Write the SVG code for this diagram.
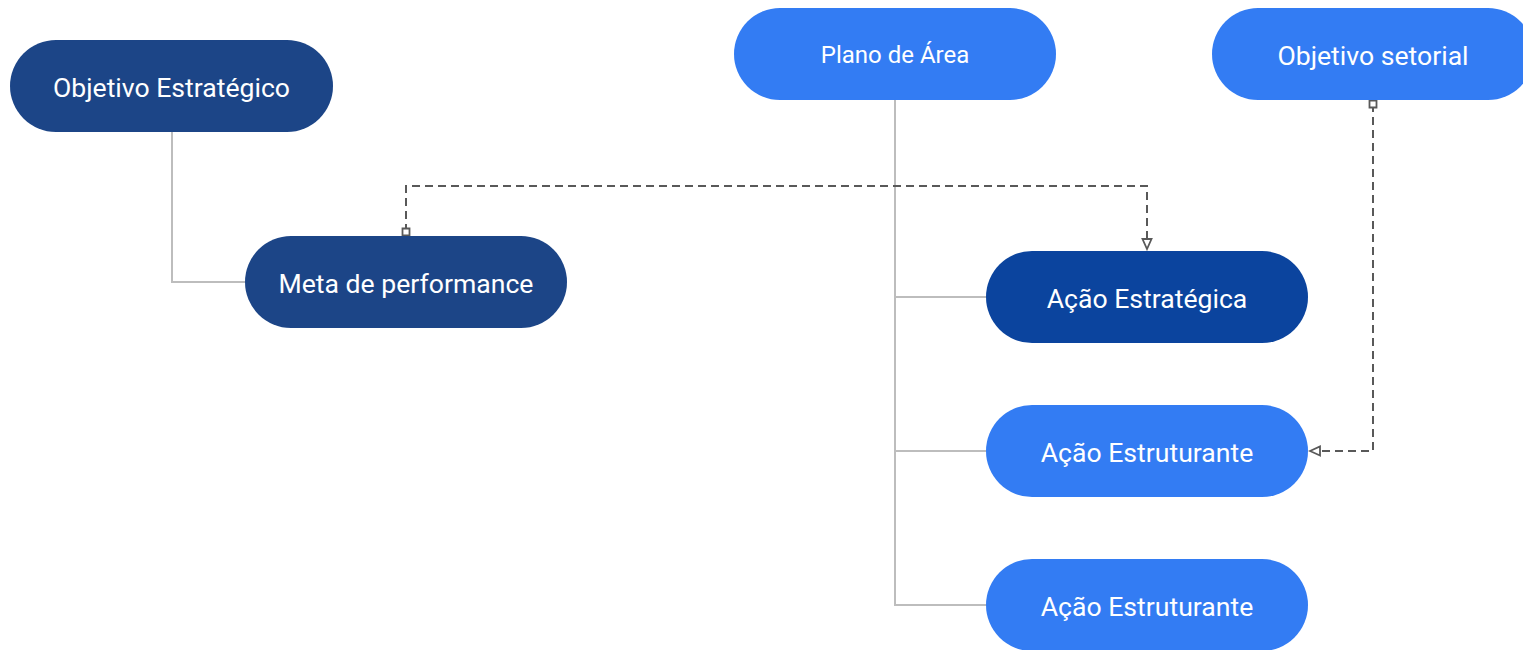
<svg xmlns="http://www.w3.org/2000/svg" width="1523" height="650" viewBox="0 0 1523 650">
<style>
.n rect{stroke:none}
.dk{fill:#1c4587}
.md{fill:#0b449e}
.lt{fill:#337cf3}
text{font-family:Roboto,"Liberation Sans",sans-serif;fill:#ffffff;text-anchor:middle;dominant-baseline:central;font-size:26.6px}
.solid{fill:none;stroke:#bdbdbd;stroke-width:2}
.dash{fill:none;stroke:#595959;stroke-width:2;stroke-dasharray:8 5}
</style>
<defs>
<marker id="sq" markerWidth="10" markerHeight="10" refX="5" refY="5" orient="auto" markerUnits="userSpaceOnUse">
<rect x="1.5" y="1.5" width="7" height="7" fill="#fff" stroke="#595959" stroke-width="1.8"/>
</marker>
<marker id="tri" markerWidth="14" markerHeight="14" refX="12" refY="7" orient="auto" markerUnits="userSpaceOnUse">
<path d="M2,2.5 L12,7 L2,11.5 Z" fill="#fff" stroke="#595959" stroke-width="1.8"/>
</marker>
</defs>
<g id="connectors">
<path class="solid" d="M172,132 V282 H245"/>
<path class="solid" d="M895,100 V605 H986"/>
<path class="solid" d="M895,297 H986"/>
<path class="solid" d="M895,451 H986"/>
<path class="dash" d="M406,232 V186 H1147 V249" marker-start="url(#sq)" marker-end="url(#tri)"/>
<path class="dash" d="M1373,104 V451 H1310" marker-start="url(#sq)" marker-end="url(#tri)"/>
</g>
<g id="objetivo-estrategico" class="n"><rect class="dk" x="10" y="40" width="323" height="92" rx="46"/><text x="171.5" y="87">Objetivo Estratégico</text></g>
<g id="plano-de-area" class="n"><rect class="lt" x="734" y="8" width="322" height="92" rx="46"/><text x="895" y="55" style="font-size:24px">Plano de Área</text></g>
<g id="objetivo-setorial" class="n"><rect class="lt" x="1212" y="8" width="322" height="92" rx="46"/><text x="1373" y="55">Objetivo setorial</text></g>
<g id="meta-de-performance" class="n"><rect class="dk" x="245" y="236" width="322" height="92" rx="46"/><text x="406" y="283">Meta de performance</text></g>
<g id="acao-estrategica" class="n"><rect class="md" x="986" y="251" width="322" height="92" rx="46"/><text x="1147" y="298">Ação Estratégica</text></g>
<g id="acao-estruturante-1" class="n"><rect class="lt" x="986" y="405" width="322" height="92" rx="46"/><text x="1147" y="452">Ação Estruturante</text></g>
<g id="acao-estruturante-2" class="n"><rect class="lt" x="986" y="559" width="322" height="92" rx="46"/><text x="1147" y="606">Ação Estruturante</text></g>
</svg>
